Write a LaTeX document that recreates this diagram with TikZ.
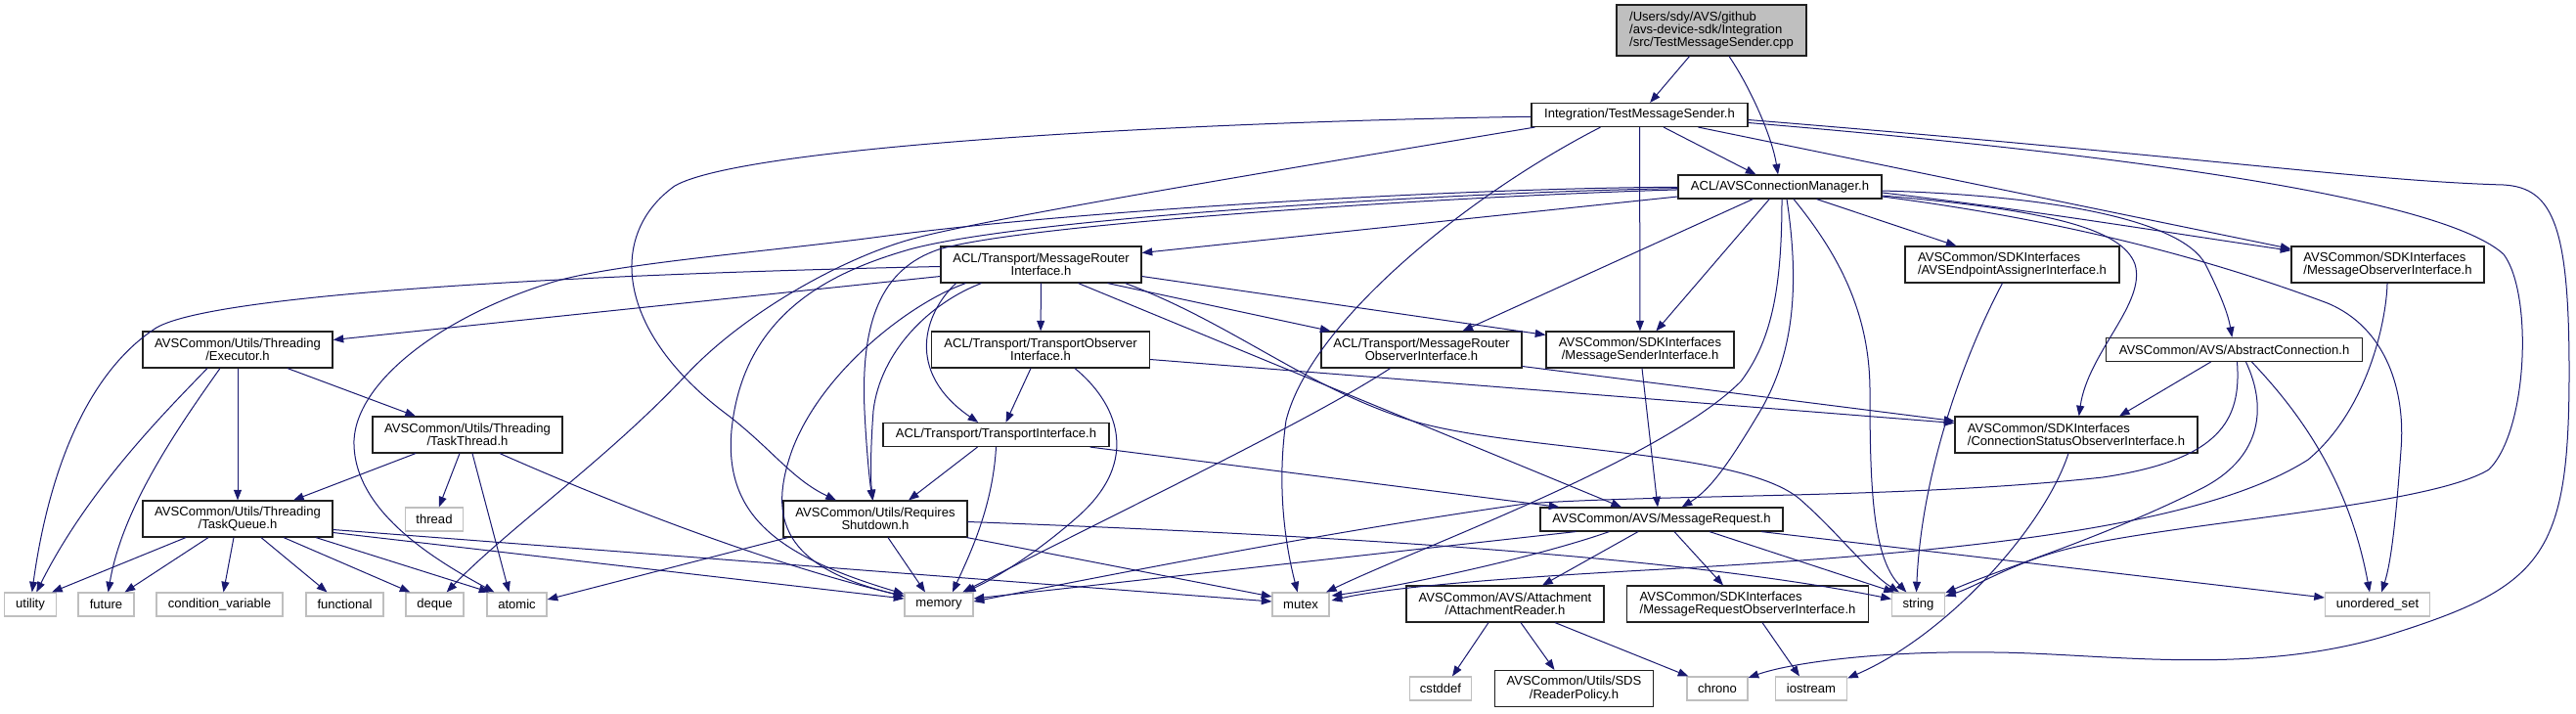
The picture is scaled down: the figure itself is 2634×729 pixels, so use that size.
\documentclass[tikz,border=0pt]{standalone}
\usepackage{fontspec}
\setmainfont{Liberation Sans}
\usetikzlibrary{arrows.meta,calc}
\definecolor{edgec}{HTML}{191970}
\definecolor{leafc}{HTML}{BFBFBF}
\definecolor{mainfill}{HTML}{BFBFBF}
\definecolor{bordc}{HTML}{202020}
\begin{document}
\begin{tikzpicture}[x=0.75pt,y=-0.75pt,
 nd/.style={draw=bordc, fill=white, line width=0.85pt, inner sep=0pt, align=center, font=\fontsize{9.8pt}{10pt}\selectfont, text=black},
 lf/.style={nd, draw=leafc},
 sz/.style 2 args={minimum width=#1*0.75pt, minimum height=#2*0.75pt},
 e/.style={draw=edgec, line width=0.75pt, -{Triangle[length=8pt,width=6pt]}}]
\fill[white] (0,0) rectangle (2634,729);
\useasboundingbox (0,0) rectangle (2634,729);
% nodes
\node[nd, fill=mainfill, sz={194}{52}, align=left] (main) at (1750,31) {/Users/sdy/AVS/github\\/avs-device-sdk/Integration\\/src/TestMessageSender.cpp};
\node[nd, sz={221}{24}] (tmsh) at (1676.5,117.5) {Integration/TestMessageSender.h};
\node[nd, sz={208}{24}] (acm) at (1820,191) {ACL/AVSConnectionManager.h};
\node[nd, sz={205}{37}] (mri) at (1064.5,270.5) {ACL/Transport/MessageRouter\\Interface.h};
\node[nd, sz={219}{37}, align=left] (aeai) at (2057.5,270.5) {AVSCommon/SDKInterfaces\\/AVSEndpointAssignerInterface.h};
\node[nd, sz={197}{37}, align=left] (moi) at (2441.5,270.5) {AVSCommon/SDKInterfaces\\/MessageObserverInterface.h};
\node[nd, sz={194}{37}] (exe) at (243,357.5) {AVSCommon/Utils/Threading\\/Executor.h};
\node[nd, sz={223}{37}] (toi) at (1064,357.5) {ACL/Transport/TransportObserver\\Interface.h};
\node[nd, sz={205}{37}] (mroi) at (1453.5,357.5) {ACL/Transport/MessageRouter\\ObserverInterface.h};
\node[nd, sz={192}{37}] (msi) at (1677,357.5) {AVSCommon/SDKInterfaces\\/MessageSenderInterface.h};
\node[nd, sz={262}{24}] (ac) at (2284.5,357.5) {AVSCommon/AVS/AbstractConnection.h};
\node[nd, sz={194}{37}] (tt) at (478,444.5) {AVSCommon/Utils/Threading\\/TaskThread.h};
\node[nd, sz={231}{24}] (ti) at (1018.5,444.5) {ACL/Transport/TransportInterface.h};
\node[nd, sz={248}{37}, align=left] (csoi) at (2123,444.5) {AVSCommon/SDKInterfaces\\/ConnectionStatusObserverInterface.h};
\node[nd, sz={194}{37}] (tq) at (243,530.5) {AVSCommon/Utils/Threading\\/TaskQueue.h};
\node[lf, sz={59}{24}] (thread) at (444,531) {thread};
\node[nd, sz={188}{37}] (rs) at (895,530.5) {AVSCommon/Utils/Requires\\Shutdown.h};
\node[nd, sz={248}{24}] (mr) at (1699,531) {AVSCommon/AVS/MessageRequest.h};
\node[lf, sz={53}{24}] (utility) at (31,618) {utility};
\node[lf, sz={57}{24}] (future) at (108.5,618) {future};
\node[lf, sz={129}{24}] (condvar) at (224.5,618) {condition\_variable};
\node[lf, sz={79}{24}] (functional) at (352.5,618) {functional};
\node[lf, sz={59}{24}] (deque) at (444.5,618) {deque};
\node[lf, sz={61}{24}] (atomic) at (528.5,618) {atomic};
\node[lf, sz={70}{24}] (memory) at (960,618) {memory};
\node[lf, sz={58}{24}] (mutex) at (1330,618) {mutex};
\node[nd, sz={202}{37}] (ar) at (1539,617.5) {AVSCommon/AVS/Attachment\\/AttachmentReader.h};
\node[nd, sz={247}{37}, align=left] (mrobs) at (1787,617.5) {AVSCommon/SDKInterfaces\\/MessageRequestObserverInterface.h};
\node[lf, sz={54}{24}] (string) at (1961.5,618) {string};
\node[lf, sz={107}{24}] (uset) at (2431,618) {unordered\_set};
\node[lf, sz={63}{24}] (cstddef) at (1473,704) {cstddef};
\node[nd, sz={162}{37}] (rp) at (1609.5,704) {AVSCommon/Utils/SDS\\/ReaderPolicy.h};
\node[lf, sz={62}{24}] (chrono) at (1756,704) {chrono};
\node[lf, sz={73}{24}] (iostream) at (1852,704) {iostream};
% edges from main
\draw[e] (main) -- (tmsh);
\draw[e] (main) .. controls (1790,90) and (1812,140) .. (acm);
% edges from TestMessageSender.h
\draw[e] (tmsh) -- (acm);
\draw[e] (tmsh) -- (msi);
\draw[e] ($(tmsh.south)+(60,0)$) -- ($(moi.north west)+(0,3)$);
\draw[e] ($(tmsh.east)+(0,8)$) .. controls (2200,160) and (2500,205) .. (2560,260) .. controls (2590,300) and (2585,440) .. (2545,480) .. controls (2480,520) and (2200,535) .. (2100,565) .. controls (2050,580) and (2020,600) .. (string);
\draw[e] ($(tmsh.east)+(0,5)$) .. controls (2250,160) and (2420,185) .. (2560,189) .. controls (2610,192) and (2627,230) .. (2627,380) .. controls (2627,570) and (2600,600) .. (2440,650) .. controls (2300,692) and (2150,668) .. (2040,667) .. controls (1920,665) and (1830,678) .. (chrono);
\draw[e] (tmsh) .. controls (1200,125) and (760,150) .. (690,190) .. controls (620,240) and (630,340) .. (745,425) .. controls (790,460) and (810,490) .. (rs);
\draw[e] ($(tmsh.south west)+(4,0)$) .. controls (1300,175) and (1000,225) .. (930,245) .. controls (860,265) and (760,320) .. (700,385) .. controls (620,470) and (520,540) .. (deque);
\draw[e] ($(tmsh.south)+(-40,0)$) .. controls (1500,200) and (1340,330) .. (1315,430) .. controls (1305,500) and (1315,560) .. (mutex);
% edges from AVSConnectionManager.h
\draw[e] (acm) .. controls (1500,192) and (1100,215) .. (900,242) .. controls (780,258) and (620,270) .. (560,290) .. controls (450,325) and (365,390) .. (362,450) .. controls (360,520) and (440,570) .. (atomic);
\draw[e] (acm) .. controls (1500,196) and (1050,222) .. (930,255) .. controls (850,278) and (760,320) .. (748,440) .. controls (740,530) and (800,570) .. (memory);
\draw[e] (acm) .. controls (1500,200) and (1050,228) .. (960,255) .. controls (900,275) and (880,330) .. (884,420) .. controls (886,460) and (889,490) .. (rs);
\draw[e] ($(acm.west)+(0,10)$) -- ($(mri.east)+(0,-12)$);
\draw[e] (acm) -- (aeai);
\draw[e] ($(acm.east)+(0,6)$) .. controls (2080,215) and (2230,240) .. (moi);
\draw[e] ($(acm.east)+(0,4)$) .. controls (2100,200) and (2230,225) .. (2255,270) .. controls (2270,300) and (2278,320) .. (ac);
\draw[e] ($(acm.east)+(0,9)$) .. controls (2100,215) and (2170,235) .. (2183,270) .. controls (2195,310) and (2135,360) .. (csoi);
\draw[e] ($(acm.east)+(0,10)$) .. controls (2150,230) and (2300,280) .. (2380,310) .. controls (2440,335) and (2460,400) .. (2455,460) .. controls (2450,530) and (2445,575) .. (uset);
\draw[e] (acm) -- (mroi);
\draw[e] (acm) -- (msi);
\draw[e] ($(acm.south)+(2,0)$) .. controls (1822,300) and (1810,350) .. (1780,390) .. controls (1700,470) and (1450,560) .. (mutex);
\draw[e] ($(acm.south)+(7,0)$) .. controls (1840,290) and (1835,360) .. (1800,420) .. controls (1770,470) and (1750,500) .. (mr);
\draw[e] ($(acm.south)+(14,0)$) .. controls (1880,260) and (1912,320) .. (1912,400) .. controls (1912,500) and (1915,570) .. (string);
% edges from MessageRouterInterface.h
\draw[e] ($(mri.west)+(0,12)$) -- ($(exe.east)+(0,-10)$);
\draw[e] ($(mri.west)+(0,2)$) .. controls (600,280) and (220,300) .. (160,335) .. controls (90,380) and (50,480) .. (utility);
\draw[e] (mri) -- (toi);
\draw[e] ($(mri.south)+(-87,0)$) .. controls (945,320) and (925,380) .. (ti);
\draw[e] ($(mri.south)+(-77,0)$) .. controls (930,310) and (840,380) .. (810,460) .. controls (785,530) and (800,580) .. (memory);
\draw[e] ($(mri.south)+(-61,0)$) .. controls (950,310) and (900,360) .. (893,420) .. controls (890,460) and (890,490) .. (rs);
\draw[e] ($(mri.south)+(68,0)$) -- ($(mroi.north)+(-93,0)$);
\draw[e] ($(mri.east)+(0,12)$) -- ($(msi.north west)+(0,4)$);
\draw[e] ($(mri.south)+(38,0)$) -- ($(mr.north)+(-41,0)$);
\draw[e] ($(mri.south)+(86,0)$) .. controls (1260,330) and (1340,400) .. (1450,432) .. controls (1560,462) and (1780,460) .. (1840,510) .. controls (1880,545) and (1910,585) .. (string);
% Executor
\draw[e] ($(exe.south)+(51,0)$) -- ($(tt.north)+(-53,0)$);
\draw[e] (exe) -- (tq);
\draw[e] ($(exe.south)+(-31,0)$) .. controls (170,420) and (90,500) .. (utility);
\draw[e] ($(exe.south)+(-18,0)$) .. controls (180,440) and (125,520) .. (future);
% TaskThread
\draw[e] ($(tt.south)+(-53,0)$) -- ($(tq.north)+(57,0)$);
\draw[e] ($(tt.south)+(-8,0)$) -- (thread);
\draw[e] ($(tt.south)+(5,0)$) -- ($(atomic.north)+(-8,0)$);
\draw[e] ($(tt.south)+(33,0)$) .. controls (650,525) and (800,580) .. (memory);
% TaskQueue
\draw[e] ($(tq.south)+(-53,0)$) -- ($(utility.north east)+(-5,0)$);
\draw[e] ($(tq.south)+(-30,0)$) -- ($(future.north east)+(-10,0)$);
\draw[e] ($(tq.south)+(-4,0)$) -- ($(condvar.north)+(4,0)$);
\draw[e] ($(tq.south)+(24,0)$) -- ($(functional.north)+(-18,0)$);
\draw[e] ($(tq.south)+(47,0)$) -- ($(deque.north west)+(5,0)$);
\draw[e] ($(tq.south)+(80,0)$) -- ($(atomic.north west)+(3,0)$);
\draw[e] ($(tq.east)+(0,14)$) -- ($(memory.west)+(0,-6)$);
\draw[e] ($(tq.east)+(0,11)$) -- ($(mutex.west)+(0,-3)$);
% TransportObserverInterface
\draw[e] ($(toi.south)+(-10,0)$) -- ($(ti.north)+(10,0)$);
\draw[e] ($(toi.south)+(35,0)$) .. controls (1140,410) and (1170,470) .. (1100,530) .. controls (1060,565) and (1020,590) .. (memory);
\draw[e] ($(toi.east)+(0,10)$) -- ($(csoi.west)+(0,-12)$);
% MessageRouterObserverInterface
\draw[e] ($(mroi.east)+(0,17)$) -- ($(csoi.west)+(0,-14)$);
\draw[e] ($(mroi.south)+(-32,0)$) .. controls (1340,430) and (1150,520) .. (memory);
% MessageSenderInterface
\draw[e] ($(msi.south)+(2,0)$) -- ($(mr.north)+(-4,0)$);
% TransportInterface
\draw[e] ($(ti.south)+(-19,0)$) -- ($(rs.north)+(34,0)$);
\draw[e] (ti.south) .. controls (1015,520) and (990,570) .. ($(memory.north)+(14,0)$);
\draw[e] ($(ti.south east)+(-20,0)$) -- ($(mr.north west)+(20,0)$);
% RequiresShutdown
\draw[e] ($(rs.south)+(13,0)$) -- ($(memory.north)+(-14,0)$);
\draw[e] ($(rs.south west)+(5,0)$) -- ($(atomic.east)+(0,-5)$);
\draw[e] ($(rs.south east)+(-1,0)$) -- ($(mutex.west)+(0,-8)$);
\draw[e] ($(rs.east)+(0,3)$) .. controls (1300,545) and (1700,565) .. (string);
% MessageRequest
\draw[e] ($(mr.south)+(-24,0)$) -- ($(ar.north)+(38,0)$);
\draw[e] ($(mr.south)+(13,0)$) -- ($(mrobs.north)+(-25,0)$);
\draw[e] ($(mr.south)+(49,0)$) -- ($(string.north west)+(3,0)$);
\draw[e] ($(mr.south)+(102,0)$) -- ($(uset.west)+(0,-7)$);
\draw[e] ($(mr.south west)+(71,0)$) .. controls (1570,570) and (1430,600) .. ($(mutex.east)+(2,-9)$);
\draw[e] ($(mr.south west)+(37,0)$) -- ($(memory.east)+(0,-6)$);
% AbstractConnection
\draw[e] ($(ac.south)+(-24,0)$) -- ($(csoi.north)+(44,0)$);
\draw[e] ($(ac.south)+(3,0)$) .. controls (2292,430) and (2270,470) .. (2150,488) .. controls (1950,510) and (1700,505) .. (1560,515) .. controls (1350,545) and (1150,585) .. ($(memory.east)+(0,-3)$);
\draw[e] ($(ac.south)+(12,0)$) .. controls (2320,420) and (2310,470) .. (2250,500) .. controls (2150,550) and (2050,580) .. (string);
\draw[e] ($(ac.south)+(18,0)$) .. controls (2340,410) and (2400,480) .. ($(uset.north)+(-8,0)$);
% others
\draw[e] ($(aeai.south)+(-10,0)$) .. controls (2010,360) and (1965,480) .. ($(string.north)+(-2,0)$);
\draw[e] (moi) .. controls (2440,330) and (2420,420) .. (2360,470) .. controls (2250,540) and (2000,565) .. (1700,582) .. controls (1550,590) and (1420,600) .. ($(mutex.east)+(2,-4)$);
\draw[e] ($(csoi.south)+(-8,0)$) .. controls (2090,540) and (1990,650) .. ($(iostream.north east)+(0,2)$);
\draw[e] ($(mrobs.south)+(15,0)$) -- ($(iostream.north)+(-12,0)$);
\draw[e] ($(ar.south)+(-17,0)$) -- ($(cstddef.north)+(12,0)$);
\draw[e] ($(ar.south)+(16,0)$) -- ($(rp.north)+(-20,0)$);
\draw[e] ($(ar.south)+(51,0)$) -- ($(chrono.north west)+(2,0)$);
\end{tikzpicture}
\end{document}
